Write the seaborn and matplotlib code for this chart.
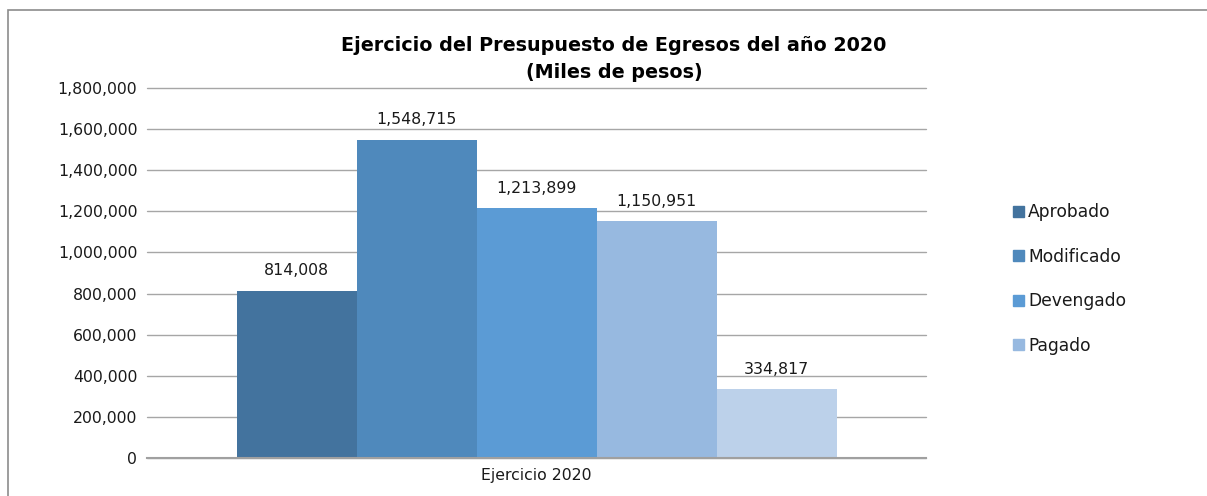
import pandas as pd
import seaborn as sns
import matplotlib.pyplot as plt
from matplotlib.patches import Rectangle
from matplotlib.ticker import FuncFormatter

sns.set_theme(style='white')
plt.rcParams['font.family'] = ['DejaVu Sans']

# data
category = ['Ejercicio 2020']
series = ['Aprobado', 'Modificado', 'Devengado', 'Pagado', 'Por pagar']
values = [814008, 1548715, 1213899, 1150951, 334817]
colors = ['#43739e', '#4f89bc', '#5b9bd5', '#97b9e0', '#bcd1ea']
legend_n = 4  # only the first four series appear in the legend

df = pd.DataFrame({'cat': category * len(series), 'serie': series, 'valor': values})

fig = plt.figure(figsize=(12.07, 4.96), dpi=100)
ax = fig.add_axes([147 / 1207, 1 - 458 / 496, (926 - 147) / 1207, (458 - 88) / 496])

sns.barplot(data=df, x='cat', y='valor', hue='serie', hue_order=series,
            palette=colors, width=600 / 779, saturation=1, linewidth=0, ax=ax, legend=False)

ax.set_xlim(-0.5, 0.5)
ax.set_ylim(0, 1800000)
ax.set_yticks(range(0, 1800001, 200000))
ax.yaxis.set_major_formatter(FuncFormatter(lambda v, p: f'{int(v):,}'))
ax.grid(axis='y', color='#a6a6a6', linewidth=1.0, clip_on=False)
ax.set_axisbelow(True)
for s in ['top', 'right', 'left']:
    ax.spines[s].set_visible(False)
ax.spines['bottom'].set_color('#a0a0a0')
ax.spines['bottom'].set_linewidth(1.5)
ax.tick_params(axis='both', length=0, labelsize=11.3, colors='#1a1a1a', pad=7)
ax.set_xlabel('')
ax.set_ylabel('')

for bar, v in zip(ax.patches, values):
    ax.annotate(f'{v:,}', (bar.get_x() + bar.get_width() / 2, bar.get_height()),
                xytext=(0, 9), textcoords='offset points', ha='center', va='bottom',
                fontsize=11.3, color='#1a1a1a')

handles = [Rectangle((0, 0), 1, 1, color=c) for c in colors[:legend_n]]
leg = fig.legend(handles, series[:legend_n], loc='center left', bbox_to_anchor=(998 / 1207, 1 - 279 / 496),
                 frameon=False, fontsize=12.3, handlelength=0.6, handleheight=0.6, handletextpad=0.25,
                 labelspacing=1.55)
for t in leg.get_texts():
    t.set_color('#1a1a1a')

fig.text(614 / 1207, 1 - 59 / 496, 'Ejercicio del Presupuesto de Egresos del año 2020\n(Miles de pesos)',
         ha='center', va='center', fontsize=13.8, fontweight='bold', linespacing=1.55, color='black')

# outer chart border
fig.patches.append(Rectangle((8 / 1207, -0.01), 1.1, 1 - 10 / 496 + 0.01, transform=fig.transFigure,
                             fill=False, edgecolor='#8c8c8c', linewidth=1.2))

plt.savefig('out.png', dpi=100)
